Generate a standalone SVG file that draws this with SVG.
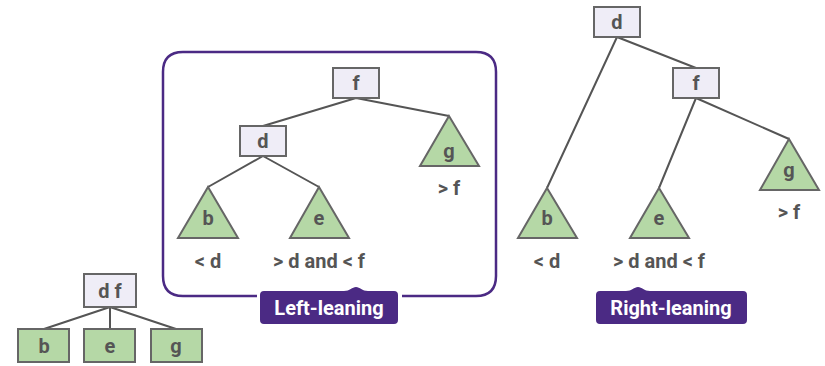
<svg xmlns="http://www.w3.org/2000/svg" width="825" height="366" viewBox="0 0 825 366">
<style>
.box{fill:#efedf7;stroke:#666;stroke-width:2}
.leaf{fill:#b5d8a6;stroke:#666;stroke-width:2}
.tri{fill:#b5d8a6;stroke:#666;stroke-width:2;stroke-linejoin:miter}
.t{font-family:Roboto,"Liberation Sans",sans-serif;font-weight:bold;font-size:20px;fill:#555;text-anchor:middle}
.edge{stroke:#555;stroke-width:2;fill:none}
.frame{fill:none;stroke:#4b2a84;stroke-width:2.5}
.tag{fill:#4b2a84}
.tagt{font-family:Roboto,"Liberation Sans",sans-serif;font-weight:bold;font-size:20px;fill:#fff;text-anchor:middle}
</style>
<rect width="825" height="366" fill="#fff"/>
<g id="connectors">
  <path class="edge" d="M356 98 L263 126 M356 98 L449 116 M263 156 L208 187 M263 156 L319 187"/>
  <path class="edge" d="M617 37 L547 188 M617 37 L696 68 M696 98 L659 188 M696 98 L789 139"/>
  <path class="edge" d="M110 307 L44 329 M110 307 L110 329 M110 307 L176 329"/>
</g>
<g id="left-frame">
  <path class="frame" d="M257 296 L183 296 Q163 296 163 276 L163 72 Q163 52 183 52 L476 52 Q496 52 496 72 L496 276 Q496 296 476 296 L402 296"/>
  <path class="tag" d="M264 291 L344 291 C350 291 352 287 356 287 C360 287 362 291 368 291 L394 291 Q398 291 398 295 L398 320 Q398 324 394 324 L264 324 Q260 324 260 320 L260 295 Q260 291 264 291 Z"/>
  <text class="tagt" x="329" y="315">Left-leaning</text>
</g>
<g id="L-f"><rect class="box" x="333" y="68" width="46" height="30"/><text class="t" x="356" y="90">f</text></g>
<g id="L-d"><rect class="box" x="240" y="126" width="46" height="30"/><text class="t" x="263" y="148">d</text></g>
<g id="L-g"><polygon class="tri" points="449,116 479,166 420,166"/><text class="t" x="449" y="158">g</text><text class="t" x="449" y="195">&gt; f</text></g>
<g id="L-b"><polygon class="tri" points="208,187 238,238 178,238"/><text class="t" x="208" y="225">b</text><text class="t" x="208" y="268">&lt; d</text></g>
<g id="L-e"><polygon class="tri" points="319,187 349,238 290,238"/><text class="t" x="319" y="225">e</text><text class="t" x="319" y="268">&gt; d and &lt; f</text></g>
<g id="R-d"><rect class="box" x="594" y="7" width="46" height="30"/><text class="t" x="617" y="29">d</text></g>
<g id="R-f"><rect class="box" x="673" y="68" width="46" height="30"/><text class="t" x="696" y="90">f</text></g>
<g id="R-b"><polygon class="tri" points="547,188 577,238 518,238"/><text class="t" x="547" y="225">b</text><text class="t" x="547" y="268">&lt; d</text></g>
<g id="R-e"><polygon class="tri" points="659,188 689,238 630,238"/><text class="t" x="659" y="225">e</text><text class="t" x="659" y="268">&gt; d and &lt; f</text></g>
<g id="R-g"><polygon class="tri" points="789,139 819,190 760,190"/><text class="t" x="789" y="177">g</text><text class="t" x="789" y="219">&gt; f</text></g>
<g id="right-label">
  <path class="tag" d="M600 291 L626 291 C632 291 634 287 638 287 C642 287 644 291 650 291 L743 291 Q747 291 747 295 L747 320 Q747 324 743 324 L600 324 Q596 324 596 320 L596 295 Q596 291 600 291 Z"/>
  <text class="tagt" x="671" y="315">Right-leaning</text>
</g>
<g id="B-df"><rect class="box" x="84" y="274" width="52" height="33"/><text class="t" x="110" y="298">d f</text></g>
<g id="B-b"><rect class="leaf" x="18" y="329" width="51" height="33"/><text class="t" x="44" y="353">b</text></g>
<g id="B-e"><rect class="leaf" x="84" y="329" width="51" height="33"/><text class="t" x="110" y="353">e</text></g>
<g id="B-g"><rect class="leaf" x="151" y="329" width="51" height="33"/><text class="t" x="176" y="353">g</text></g>
</svg>
